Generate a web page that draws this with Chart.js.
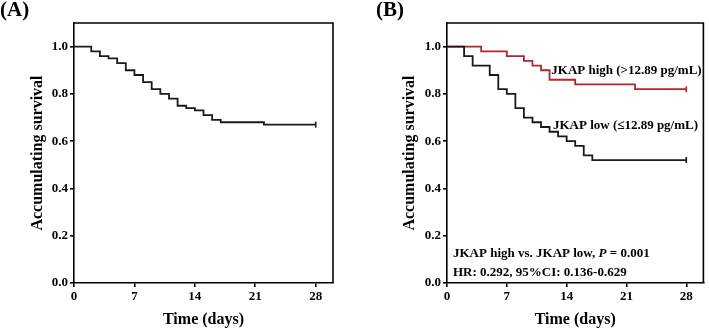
<!DOCTYPE html>
<html>
<head>
<meta charset="utf-8">
<script src="https://cdn.jsdelivr.net/npm/chart.js@4.4.1/dist/chart.umd.min.js"></script>
<style>
  body { margin: 0; background: #fff; }
  .panel { position: absolute; top: 0; height: 329px; }
  #panelA { left: 0; width: 354px; }
  #panelB { left: 354px; width: 355px; }
</style>
</head>
<body>
<div class="panel" id="panelA"><canvas id="chartA"></canvas></div>
<div class="panel" id="panelB"><canvas id="chartB"></canvas></div>
<script>
// days and survival values
const xTicks = [0, 7, 14, 21, 28];
const yTicks = [0, 0.2, 0.4, 0.6, 0.8, 1.0];

const allDays = [0, 2, 3, 4, 5, 6, 7, 8, 9, 10, 11, 12, 13, 14, 15, 16, 17, 22, 28];
const allSurv = [1.0, 0.98, 0.96, 0.95, 0.93, 0.90, 0.88, 0.85, 0.82, 0.80, 0.78, 0.75, 0.74, 0.73, 0.71, 0.69, 0.68, 0.67, 0.67];

const highDays = [0, 4, 7, 9, 10, 11, 12, 15, 22, 28];
const highSurv = [1.0, 0.98, 0.96, 0.94, 0.92, 0.90, 0.86, 0.84, 0.82, 0.82];

const lowDays = [0, 2, 3, 5, 6, 7, 8, 9, 10, 11, 12, 13, 14, 15, 16, 17, 28];
const lowSurv = [1.0, 0.96, 0.92, 0.88, 0.82, 0.80, 0.74, 0.70, 0.68, 0.66, 0.64, 0.62, 0.60, 0.58, 0.54, 0.52, 0.52];

const highLabel = 'JKAP high (>12.89 pg/mL)';
const lowLabel = 'JKAP low (\u226412.89 pg/mL)';
const statLine1 = ['JKAP high vs. JKAP low, ', 'P', ' = 0.001'];
const statLine2 = 'HR: 0.292, 95%CI: 0.136-0.629';

const SERIF = '"Liberation Serif", "Times New Roman", serif';

function toPoints(xs, ys) {
  return xs.map((x, i) => ({ x: x, y: ys[i] }));
}

function kmDataset(xs, ys, color) {
  return {
    data: toPoints(xs, ys),
    borderColor: color,
    borderWidth: 1.8,
    stepped: true,
    fill: false,
    pointStyle: 'line',
    rotation: 90,
    pointRadius: xs.map((x, i) => i === xs.length - 1 ? 3 : 0),
    pointBorderColor: color,
    pointBorderWidth: 1.6
  };
}

// box round the plot + panel letter
const framePlugin = {
  id: 'frame',
  afterDraw(chart, args, opts) {
    const ctx = chart.ctx;
    const a = chart.chartArea;
    ctx.save();
    ctx.strokeStyle = '#000';
    ctx.lineWidth = 1.6;
    ctx.beginPath();
    ctx.moveTo(a.left, a.top);
    ctx.lineTo(a.right, a.top);
    ctx.lineTo(a.right, a.bottom);
    ctx.stroke();
    ctx.fillStyle = '#000';
    ctx.font = 'bold 21px ' + SERIF;
    ctx.textBaseline = 'middle';
    ctx.fillText(opts.letter, opts.letterX, 11);
    ctx.restore();
  }
};

// text labels inside panel B, placed in data units
const notesPlugin = {
  id: 'notes',
  afterDraw(chart, args, opts) {
    if (!opts.show) return;
    const ctx = chart.ctx;
    const xs = chart.scales.x, ys = chart.scales.y;
    ctx.save();
    ctx.fillStyle = '#000';
    ctx.textBaseline = 'middle';
    ctx.font = 'bold 13px ' + SERIF;
    ctx.fillText(highLabel, xs.getPixelForValue(12.2), ys.getPixelForValue(0.9));
    ctx.fillText(lowLabel, xs.getPixelForValue(12.4), ys.getPixelForValue(0.664));

    let x = xs.getPixelForValue(0.7);
    const y1 = ys.getPixelForValue(0.123);
    statLine1.forEach((part, i) => {
      ctx.font = (i === 1 ? 'italic bold 13px ' : 'bold 13px ') + SERIF;
      ctx.fillText(part, x, y1);
      x += ctx.measureText(part).width;
    });
    ctx.font = 'bold 13px ' + SERIF;
    ctx.fillText(statLine2, xs.getPixelForValue(0.7), ys.getPixelForValue(0.042));
    ctx.restore();
  }
};

function makeChart(id, datasets, yWidth, padRight, yTitlePad, letter, letterX, showNotes) {
  return new Chart(document.getElementById(id), {
    type: 'line',
    data: { datasets: datasets },
    options: {
      responsive: true,
      maintainAspectRatio: false,
      animation: false,
      layout: { padding: { top: 23, right: padRight, left: 0, bottom: 0 } },
      plugins: {
        legend: { display: false },
        tooltip: { enabled: false },
        frame: { letter: letter, letterX: letterX },
        notes: { show: showNotes }
      },
      scales: {
        x: {
          type: 'linear',
          min: 0,
          max: 30,
          afterBuildTicks: s => { s.ticks = xTicks.map(v => ({ value: v })); },
          afterFit: s => { s.height = 46; },
          grid: { drawOnChartArea: false, drawTicks: true, tickLength: 4, color: '#000', lineWidth: 1.6 },
          border: { color: '#000', width: 1.6 },
          ticks: {
            color: '#000', padding: 2, maxRotation: 0,
            font: { family: SERIF, size: 13, weight: 'bold' }
          },
          title: {
            display: true, text: 'Time (days)', color: '#000',
            font: { family: SERIF, size: 16, weight: 'bold' },
            padding: { top: 1.5, bottom: 0 }
          }
        },
        y: {
          min: 0,
          max: 1.1,
          afterBuildTicks: s => { s.ticks = yTicks.map(v => ({ value: v })); },
          afterFit: s => { s.width = yWidth; },
          grid: { drawOnChartArea: false, drawTicks: true, tickLength: 4, color: '#000', lineWidth: 1.6 },
          border: { color: '#000', width: 1.6 },
          ticks: {
            color: '#000', padding: 2,
            font: { family: SERIF, size: 13, weight: 'bold' },
            callback: v => v.toFixed(1)
          },
          title: {
            display: true, text: 'Accumulating survival', color: '#000',
            font: { family: SERIF, size: 16, weight: 'bold' },
            padding: { top: yTitlePad, bottom: 0 }
          }
        }
      }
    },
    plugins: [framePlugin, notesPlugin]
  });
}

const chartA = makeChart('chartA',
  [kmDataset(allDays, allSurv, '#1a1a1a')],
  74, 21, 28, '(A)', 0, false);

const chartB = makeChart('chartB',
  [kmDataset(lowDays, lowSurv, '#1a1a1a'), kmDataset(highDays, highSurv, '#b3262a')],
  93, 1, 46, '(B)', 22, true);
</script>
</body>
</html>
